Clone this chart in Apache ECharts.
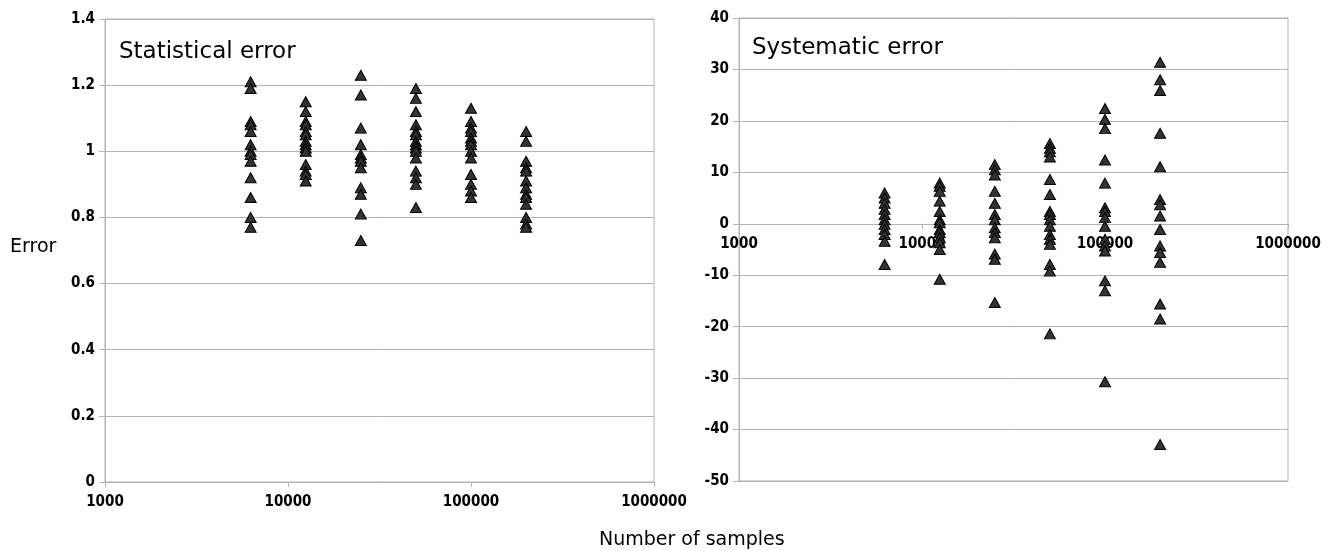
<!DOCTYPE html>
<html>
<head>
<meta charset="utf-8">
<script src="https://cdn.jsdelivr.net/npm/echarts@6/dist/echarts.min.js"></script>
<style>
  html, body { margin: 0; padding: 0; background: #fff; }
  #chart { width: 1338px; height: 551px; }
</style>
</head>
<body>
<div id="chart"></div>
<script>
// number of samples for each column of points
const sampleSizes = [6250, 12500, 25000, 50000, 100000, 200000]
const xTicks = [1000, 10000, 100000, 1000000]

// statistical error, one list per sample size
const statErr = [
  [1.21, 1.19, 1.09, 1.08, 1.06, 1.02, 1.0, 0.99, 0.97, 0.92, 0.86, 0.80, 0.77],
  [1.15, 1.12, 1.09, 1.08, 1.06, 1.05, 1.03, 1.02, 1.01, 1.0, 0.96, 0.94, 0.93, 0.91],
  [1.23, 1.17, 1.07, 1.02, 0.99, 0.98, 0.97, 0.95, 0.89, 0.87, 0.81, 0.73],
  [1.19, 1.16, 1.12, 1.08, 1.06, 1.05, 1.03, 1.02, 1.01, 1.0, 0.98, 0.94, 0.92, 0.90, 0.83],
  [1.13, 1.09, 1.07, 1.06, 1.04, 1.03, 1.02, 1.0, 0.98, 0.93, 0.90, 0.88, 0.86],
  [1.06, 1.03, 0.97, 0.95, 0.94, 0.91, 0.89, 0.87, 0.86, 0.84, 0.80, 0.78, 0.77]
]

// systematic error, one list per sample size
const sysErr = [
  [6.0, 5.0, 4.0, 2.8, 1.8, 0.8, -0.1, -1.1, -2.1, -3.4, -7.9],
  [7.9, 7.3, 6.3, 4.4, 2.4, 0.8, 0.2, -1.1, -1.7, -2.7, -3.7, -5.0, -10.8],
  [11.5, 10.5, 9.5, 6.3, 4.0, 1.8, 0.8, -0.8, -1.7, -2.7, -5.9, -6.9, -15.3],
  [15.6, 14.7, 14.0, 13.0, 8.6, 5.7, 2.4, 1.8, 0.8, -0.5, -2.1, -3.0, -4.0, -7.9, -9.2, -21.4],
  [22.4, 20.3, 18.5, 12.4, 7.9, 3.1, 2.4, 1.2, -0.5, -3.0, -4.3, -5.3, -11.1, -13.0, -30.7],
  [31.4, 28.0, 25.9, 17.6, 11.1, 4.7, 3.7, 1.5, -1.1, -4.3, -5.6, -7.5, -15.6, -18.5, -42.9]
]

const toPoints = (cols) => cols.flatMap((vals, i) => vals.map(v => [sampleSizes[i], v]))

const gray = '#b3b3b3'
const labelStyle = {
  color: '#000',
  fontFamily: "'DejaVu Sans Condensed', 'DejaVu Sans'",
  fontWeight: 'bold',
  fontSize: 15
}

// right plot: grid top 18, height 463, y from -50 to 40 -> zero line sits 257px above the bottom
const sysGrid = { left: 739, top: 18, width: 549, height: 463 }
const zeroShift = sysGrid.height * 50 / 90

function xAxisFor (gridIndex, offset) {
  return {
    type: 'log',
    logBase: 10,
    gridIndex: gridIndex,
    min: xTicks[0],
    max: xTicks[xTicks.length - 1],
    offset: offset,
    axisLine: { show: true, onZero: false, lineStyle: { color: gray } },
    axisTick: { show: true, length: 5, lineStyle: { color: gray } },
    axisLabel: Object.assign({ margin: 13, formatter: v => String(Math.round(v)) }, labelStyle),
    splitLine: { show: false }
  }
}

const triangle = {
  type: 'scatter',
  symbol: 'triangle',
  symbolSize: [11, 10],
  itemStyle: { color: '#333333', borderColor: '#000', borderWidth: 1, opacity: 1 },
  emphasis: { disabled: true }
}

const chart = echarts.init(document.getElementById('chart'))
chart.setOption({
  animation: false,
  backgroundColor: '#fff',
  title: [
    { text: 'Statistical error', left: 114, top: 36,
      textStyle: { fontFamily: 'DejaVu Sans', fontWeight: 'normal', fontSize: 23, color: '#000' } },
    { text: 'Systematic error', left: 747, top: 32,
      textStyle: { fontFamily: 'DejaVu Sans', fontWeight: 'normal', fontSize: 23, color: '#000' } },
    { text: 'Error', left: 5, top: 233,
      textStyle: { fontFamily: 'DejaVu Sans', fontWeight: 'normal', fontSize: 19, color: '#000' } },
    { text: 'Number of samples', left: 594, top: 526,
      textStyle: { fontFamily: 'DejaVu Sans', fontWeight: 'normal', fontSize: 19, color: '#000' } }
  ],
  grid: [
    { left: 105, top: 19, width: 549, height: 463, show: true, borderColor: gray, borderWidth: 1 },
    Object.assign({ show: true, borderColor: gray, borderWidth: 1 }, sysGrid)
  ],
  xAxis: [xAxisFor(0, 0), xAxisFor(1, -zeroShift)],
  yAxis: [
    {
      type: 'value', gridIndex: 0, min: 0, max: 1.4, interval: 0.2,
      axisLine: { show: true, lineStyle: { color: gray } },
      axisTick: { show: true, length: 6, lineStyle: { color: gray } },
      axisLabel: Object.assign({ margin: 10 }, labelStyle),
      splitLine: { show: true, lineStyle: { color: gray, width: 1 } }
    },
    {
      type: 'value', gridIndex: 1, min: -50, max: 40, interval: 10,
      axisLine: { show: true, lineStyle: { color: gray } },
      axisTick: { show: true, length: 6, lineStyle: { color: gray } },
      axisLabel: Object.assign({ margin: 10 }, labelStyle),
      splitLine: { show: true, lineStyle: { color: gray, width: 1 } }
    }
  ],
  series: [
    Object.assign({ name: 'Statistical error', xAxisIndex: 0, yAxisIndex: 0, data: toPoints(statErr) }, triangle),
    Object.assign({ name: 'Systematic error', xAxisIndex: 1, yAxisIndex: 1, data: toPoints(sysErr) }, triangle)
  ]
})
</script>
</body>
</html>
